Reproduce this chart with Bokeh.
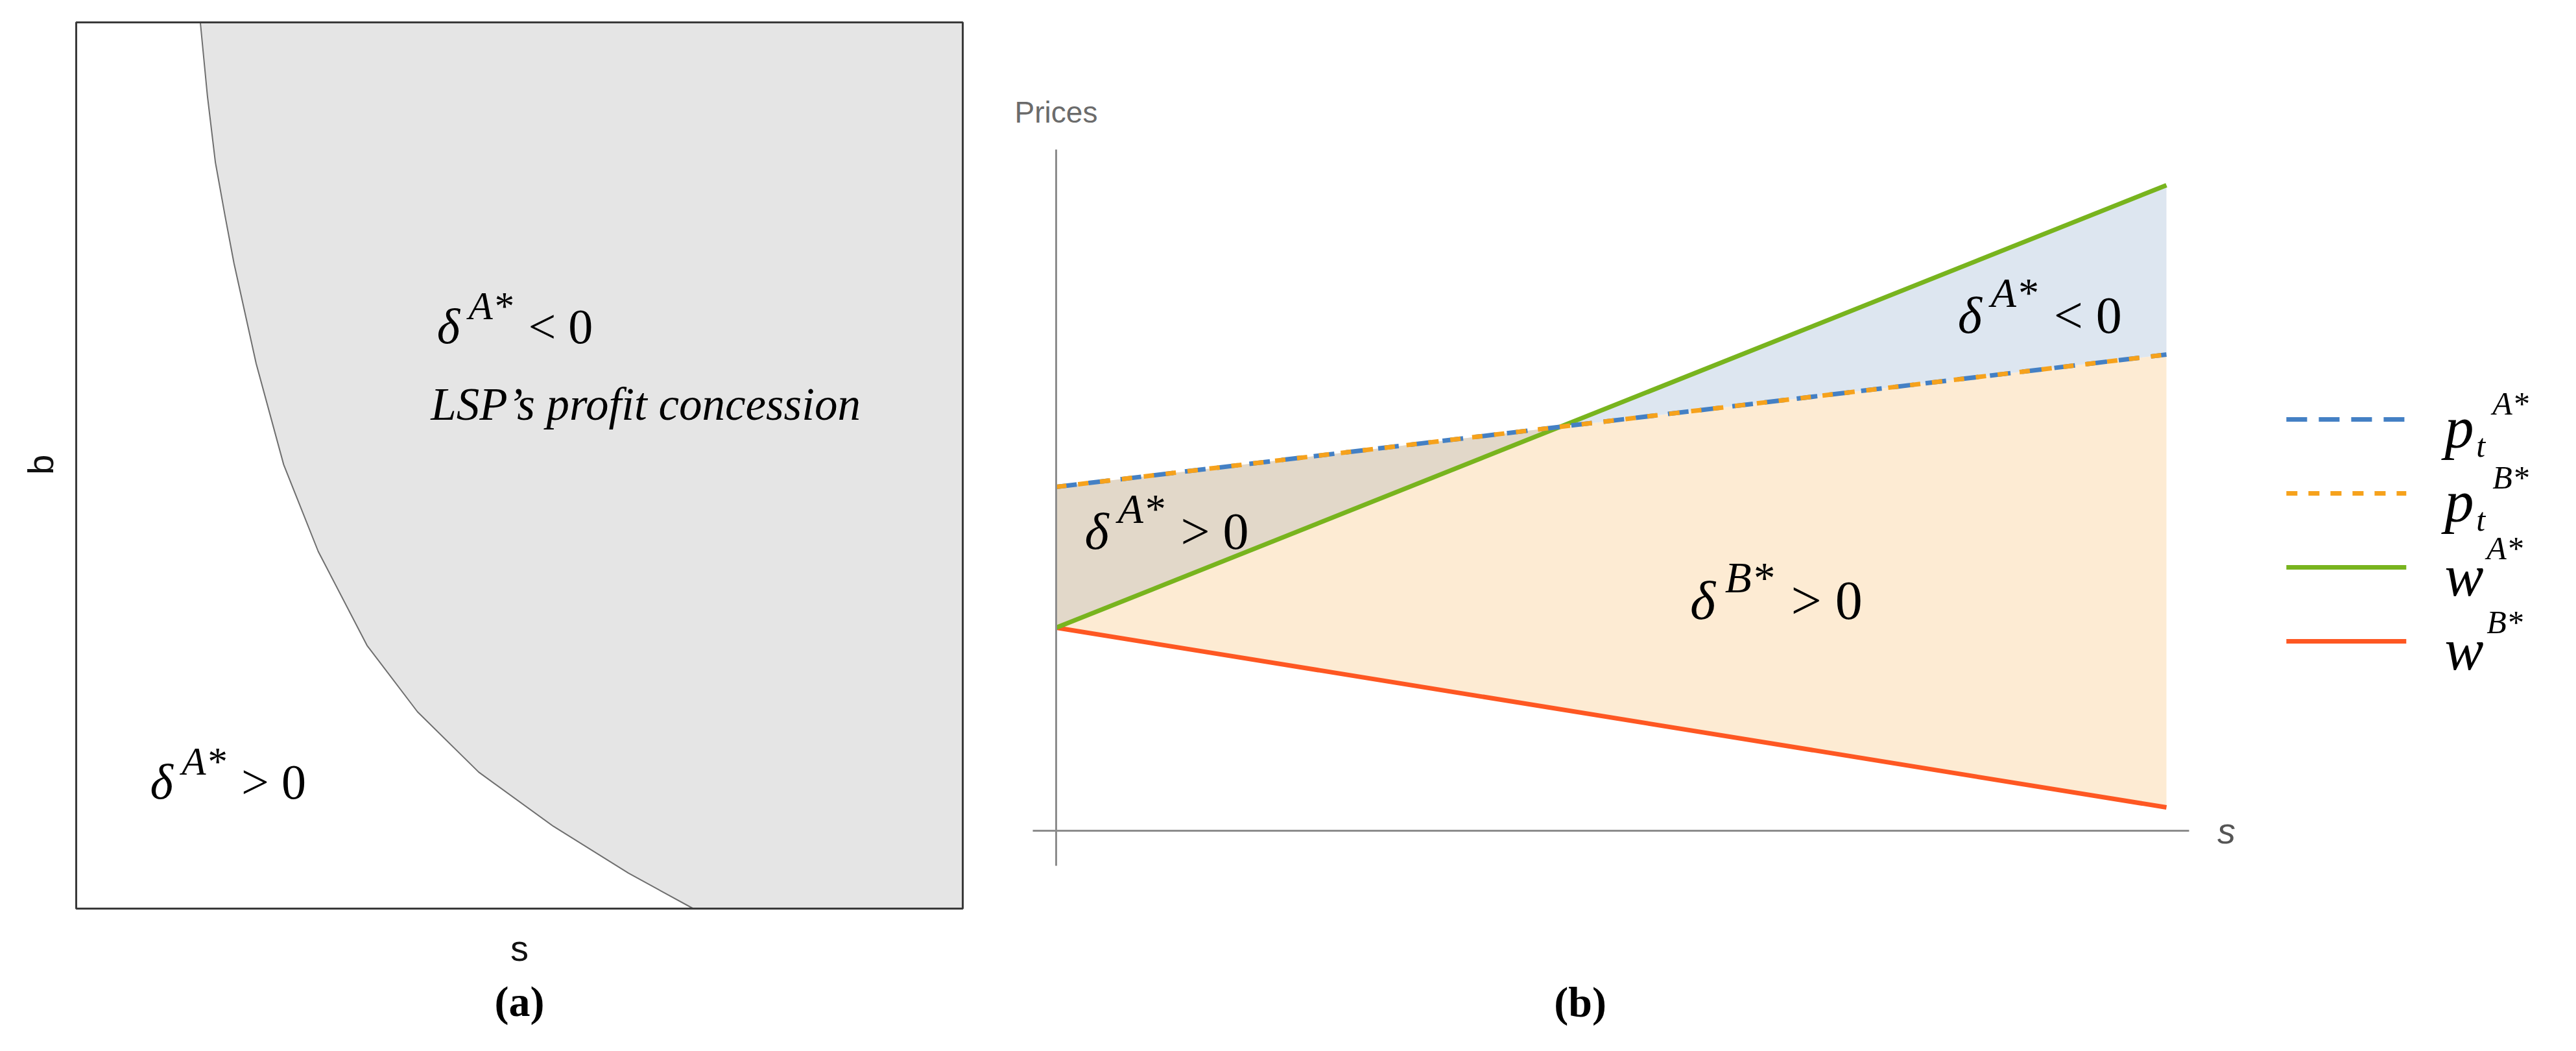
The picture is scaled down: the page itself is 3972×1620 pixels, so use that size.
from bokeh.plotting import figure
from bokeh.layouts import row
from bokeh.models import Range1d, Label, Arrow, BoxAnnotation
from bokeh.embed import file_html
from bokeh.resources import INLINE

# ---------------- data ----------------
# panel (a): boundary delta^A* = 0 in the (s, b) plane
curve_s = [0.140, 0.148, 0.157, 0.168, 0.178, 0.203, 0.234, 0.273, 0.328, 0.385, 0.454, 0.538, 0.623, 0.696]
curve_b = [1.000, 0.917, 0.842, 0.781, 0.728, 0.615, 0.501, 0.403, 0.297, 0.222, 0.154, 0.093, 0.040, 0.000]
s_box = (0.0, 1.0)
b_box = (0.0, 1.0)

# panel (b): prices against s
s_vals = [0.0, 1.0]
pA_vals = [5.30, 7.34]
pB_vals = [5.30, 7.34]
wA_vals = [3.13, 9.95]
wB_vals = [3.13, 0.36]

legend_names = [("p", "t", "A*"), ("p", "t", "B*"), ("w", "", "A*"), ("w", "", "B*")]

SERIF = "Liberation Serif"
SANS = "Liberation Sans"

C_BLUE = "#4480c4"
C_ORANGE = "#f6a21c"
C_GREEN = "#78b41e"
C_RED = "#fe5722"


def add_math(p, x, y, parts, base):
    for text, dx, dy, size, style in parts:
        p.add_layout(Label(x=x, y=y, x_offset=dx * base, y_offset=dy * base, text=text,
                           text_font=SERIF, text_font_style=style,
                           text_font_size=f"{size * base:.0f}px", text_color="black",
                           text_baseline="alphabetic", text_align="left"))


def delta_label(p, x, y, sup, rel, base):
    add_math(p, x, y, [("δ", 0, 0, 1, "italic"),
                       (sup, 0.64, 0.42, 0.8, "italic"),
                       (rel, 1.85, 0, 1, "normal")], base)


# ---------------- panel (a) ----------------
p1 = figure(width=1540, height=1604, x_range=Range1d(-0.08559, 1.04097),
            y_range=Range1d(-0.14934, 1.02489),
            x_axis_location=None, y_axis_location=None, toolbar_location=None,
            output_backend="svg", min_border=0)
p1.grid.visible = False
p1.outline_line_color = None

fill_x = curve_s + [s_box[1]]
fill_lo = curve_b + [b_box[0]]
fill_hi = [b_box[1]] * len(fill_x)
p1.varea(x=fill_x, y1=fill_lo, y2=fill_hi, fill_color="#e5e5e5")
p1.line(curve_s, curve_b, line_color="#6e6e6e", line_width=2)
p1.add_layout(BoxAnnotation(left=s_box[0], right=s_box[1], bottom=b_box[0], top=b_box[1],
                            fill_color=None, fill_alpha=0, line_color="#3a3a3a",
                            line_alpha=1.0, line_width=3))

delta_label(p1, 0.407, 0.657, "A*", "< 0", 76)
p1.add_layout(Label(x=0.400, y=0.569, text="LSP\u2019s profit concession", text_font=SERIF,
                    text_font_style="italic", text_font_size="71px", text_color="black",
                    text_baseline="alphabetic"))
delta_label(p1, 0.0834, 0.143, "A*", "> 0", 76)

p1.add_layout(Label(x=0.5, y=-0.045, text="s", text_font=SANS, text_font_size="56px",
                    text_color="#111111", text_align="center", text_baseline="middle"))
p1.add_layout(Label(x=-0.040, y=0.501, text="b", text_font=SANS, text_font_size="56px",
                    text_color="#111111", text_align="center", text_baseline="middle",
                    angle=1.5708))
p1.add_layout(Label(x=0.5, y=-0.105, text="(a)", text_font=SERIF, text_font_style="bold",
                    text_font_size="66px", text_color="black", text_align="center",
                    text_baseline="middle"))

# ---------------- panel (b) ----------------
p2 = figure(width=2416, height=1604, x_range=Range1d(-0.05140, 1.35981),
            y_range=Range1d(-3.24, 12.80),
            x_axis_location=None, y_axis_location=None, toolbar_location=None,
            output_backend="svg", min_border=0)
p2.grid.visible = False
p2.outline_line_color = None

# axes crossing at the origin (s = 0, price = 0)
x_axis_span = (-0.02103, 1.0204)
y_axis_span = (-0.54, 10.5)
p2.add_layout(Arrow(end=None, x_start=x_axis_span[0], x_end=x_axis_span[1], y_start=0, y_end=0,
                    line_color="#8c8c8c", line_width=3))
p2.add_layout(Arrow(end=None, x_start=0, x_end=0, y_start=y_axis_span[0], y_end=y_axis_span[1],
                    line_color="#8c8c8c", line_width=3))

# intersection of w^A* with p_t^A*
sx = (pA_vals[0] - wA_vals[0]) / ((wA_vals[1] - wA_vals[0]) - (pA_vals[1] - pA_vals[0]))
yx = wA_vals[0] + sx * (wA_vals[1] - wA_vals[0])

p2.varea(x=s_vals, y1=wB_vals, y2=pB_vals, fill_color="#fdebd3")
p2.varea(x=[s_vals[0], sx], y1=[wA_vals[0], yx], y2=[pA_vals[0], yx], fill_color="#e2d8c9")
p2.varea(x=[sx, s_vals[1]], y1=[yx, pA_vals[1]], y2=[yx, wA_vals[1]], fill_color="#dde6f0")

p2.line(s_vals, wB_vals, line_color=C_RED, line_width=7)
p2.line(s_vals, wA_vals, line_color=C_GREEN, line_width=7)
p2.line(s_vals, pA_vals, line_color=C_BLUE, line_width=7, line_dash="32 18")
p2.line(s_vals, pB_vals, line_color=C_ORANGE, line_width=7, line_dash="16 18")

delta_label(p2, 0.0257, 4.62, "A*", "> 0", 80)
delta_label(p2, 0.812, 7.95, "A*", "< 0", 80)
delta_label(p2, 0.571, 3.55, "B*", "> 0", 84)

p2.add_layout(Label(x=0, y=11.08, text="Prices", text_font=SANS, text_font_size="46px",
                    text_color="#6b6b6b", text_align="center", text_baseline="middle"))
p2.add_layout(Label(x=1.054, y=0.0, text="s", text_font=SANS, text_font_style="italic",
                    text_font_size="56px", text_color="#555555", text_align="center",
                    text_baseline="middle"))
p2.add_layout(Label(x=0.472, y=-2.64, text="(b)", text_font=SERIF, text_font_style="bold",
                    text_font_size="66px", text_color="black", text_align="center",
                    text_baseline="middle"))

# legend (drawn by hand so the labels can carry sub/superscripts)
leg_x0, leg_x1, leg_tx = 1.108, 1.216, 1.2506
leg_y = [6.34, 5.20, 4.06, 2.92]
leg_styles = [(C_BLUE, "32 18"), (C_ORANGE, "17 17"), (C_GREEN, "solid"), (C_RED, "solid")]
for (col, dash), yy, (main, sub, sup) in zip(leg_styles, leg_y, legend_names):
    p2.line([leg_x0, leg_x1], [yy, yy], line_color=col, line_width=7, line_dash=dash)
    F = 90
    parts = [(main, 0, -0.14, 1, "italic")]
    if sub:
        parts.append((sub, 0.54, -0.45, 0.55, "italic"))
        parts.append((sup, 0.82, 0.27, 0.55, "italic"))
    else:
        parts.append((sup, 0.72, 0.33, 0.55, "italic"))
    add_math(p2, leg_tx, yy, parts, F)

layout = row(p1, p2)
open("out.html", "w").write(file_html(layout, INLINE))
